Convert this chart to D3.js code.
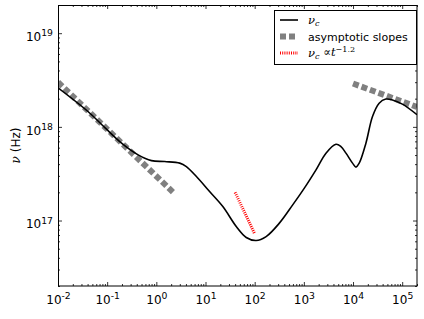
<!DOCTYPE html>
<html>
<head>
<meta charset="utf-8">
<script src="https://cdn.jsdelivr.net/npm/d3@7/dist/d3.min.js"></script>
<style>
    body { margin: 0; background: #fff; }
    svg { display: block; font-family: "DejaVu Sans", sans-serif; }
</style>
</head>
<body>
<div id="graph"></div>
<script>
"use strict";
// nu_c curve (t, Hz)
const tCurve = [0.01, 0.0412, 0.0897, 0.196, 0.426, 0.796, 1.48, 2.99, 4.08, 6.53, 12.1, 22.5,
    42.2, 67.3, 107, 171, 318, 593, 1023, 1767, 2818, 4498, 5684, 7178, 9772, 11460, 13370,
    18280, 24890, 33980, 46450, 63240, 100900, 200000];
const nuCurve = [2.61e18, 1.45e18, 9.8e17, 6.7e17, 5.02e17, 4.36e17, 4.26e17, 4.10e17, 3.77e17,
    2.95e17, 2.04e17, 1.41e17, 8.63e16, 6.59e16, 6.12e16, 6.74e16, 9.38e16, 1.47e17, 2.22e17,
    3.48e17, 5.24e17, 6.53e17, 6.16e17, 5.24e17, 4.10e17, 3.72e17, 4.10e17, 6.70e17, 1.29e18,
    1.79e18, 1.98e18, 1.94e18, 1.75e18, 1.35e18];

// asymptotic slopes
const slopeLeftT = [0.01, 2.2];
const slopeLeftNu = [3.0e18, 2.0e17];
const slopeRightT = [1e4, 2e5];
const slopeRightNu = [2.9e18, 1.63e18];

// nu_c ~ t^-1.2 guide
const guideT = [40, 100];
const guideNu = [2.0e17, 7.2e16];

const xExp = [-2, -1, 0, 1, 2, 3, 4, 5];
const yExp = [17, 18, 19];
const legendLabels = ["nu", "asymptotic slopes", "guide"];

const W = 424, H = 319;
const margin = {top: 5, right: 7, bottom: 33, left: 58};
const width = W - margin.left - margin.right;
const height = H - margin.top - margin.bottom;

const xScale = d3.scaleLog().domain([1e-2, 2e5]).range([0, width]);
const yScale = d3.scaleLog().domain([2e16, 2e19]).range([height, 0]);

const svg = d3.select("#graph").append("svg")
    .attr("width", W).attr("height", H);
const g = svg.append("g")
    .attr("transform", "translate(" + margin.left + "," + margin.top + ")");

g.append("clipPath").attr("id", "clip")
    .append("rect").attr("width", width).attr("height", height);

function minorTicks(scale) {
    let d = scale.domain();
    let out = [];
    for (let e = Math.floor(Math.log10(d[0])); e <= Math.ceil(Math.log10(d[1])); e++) {
        for (let m = 2; m <= 9; m++) {
            let v = m * Math.pow(10, e);
            if (v >= d[0] && v <= d[1]) out.push(v);
        }
    }
    return out;
}

function powLabel(sel) {
    sel.selectAll(".tick text").each(function(d) {
        let e = Math.round(Math.log10(d));
        let t = d3.select(this).text("10");
        t.append("tspan").attr("dy", "-0.5em").attr("font-size", "0.77em")
            .text(e < 0 ? "-" + (-e) : e);
    });
}

const xMajor = xExp.map((e) => Math.pow(10, e));
const yMajor = yExp.map((e) => Math.pow(10, e));

// bottom
g.append("g").attr("transform", "translate(0," + height + ")")
    .call(d3.axisBottom(xScale).tickValues(xMajor).tickSize(-4).tickPadding(9).tickFormat(() => ""))
    .call(powLabel)
    .call((s) => s.selectAll("text").attr("font-size", 12).attr("fill", "#000").attr("font-family", "DejaVu Sans"));
g.append("g").attr("transform", "translate(0," + height + ")")
    .call(d3.axisBottom(xScale).tickValues(minorTicks(xScale)).tickSize(-2).tickFormat(""));
// top
g.append("g").call(d3.axisTop(xScale).tickValues(xMajor).tickSize(-4).tickFormat(""));
g.append("g").call(d3.axisTop(xScale).tickValues(minorTicks(xScale)).tickSize(-2).tickFormat(""));
// left
g.append("g")
    .call(d3.axisLeft(yScale).tickValues(yMajor).tickSize(-4).tickPadding(5).tickFormat(() => ""))
    .call(powLabel)
    .call((s) => s.selectAll(".tick > text").attr("dy", "0.6em"))
    .call((s) => s.selectAll("text").attr("font-size", 12).attr("fill", "#000").attr("font-family", "DejaVu Sans"));
g.append("g").call(d3.axisLeft(yScale).tickValues(minorTicks(yScale)).tickSize(-2).tickFormat(""));
// right
g.append("g").attr("transform", "translate(" + width + ",0)")
    .call(d3.axisRight(yScale).tickValues(yMajor).tickSize(-4).tickFormat(""));
g.append("g").attr("transform", "translate(" + width + ",0)")
    .call(d3.axisRight(yScale).tickValues(minorTicks(yScale)).tickSize(-2).tickFormat(""));

g.selectAll(".domain").remove();
g.selectAll(".tick line").attr("stroke", "#000").attr("stroke-width", 0.8);

const plot = g.append("g").attr("clip-path", "url(#clip)");

const line = d3.line()
    .x((d) => xScale(d[0]))
    .y((d) => yScale(d[1]));

plot.append("path")
    .datum(d3.zip(slopeLeftT, slopeLeftNu))
    .attr("d", line)
    .attr("fill", "none").attr("stroke", "#808080")
    .attr("stroke-width", 6).attr("stroke-dasharray", "6,3");
plot.append("path")
    .datum(d3.zip(slopeRightT, slopeRightNu))
    .attr("d", line)
    .attr("fill", "none").attr("stroke", "#808080")
    .attr("stroke-width", 6).attr("stroke-dasharray", "6,3");

plot.append("path")
    .datum(d3.zip(tCurve, nuCurve))
    .attr("d", line.curve(d3.curveCatmullRom.alpha(0.5)))
    .attr("fill", "none").attr("stroke", "#000").attr("stroke-width", 1.6);
line.curve(d3.curveLinear);

plot.append("path")
    .datum(d3.zip(guideT, guideNu))
    .attr("d", line)
    .attr("fill", "none").attr("stroke", "#ff0000")
    .attr("stroke-width", 3).attr("stroke-dasharray", "1,1.2");

// frame
g.append("rect")
    .attr("x", 0.5).attr("y", 0.5)
    .attr("width", width - 0.5).attr("height", height - 0.5)
    .attr("fill", "none").attr("stroke", "#000").attr("stroke-width", 1);

// y label
svg.append("text")
    .attr("transform", "translate(19.5," + (margin.top + height / 2) + ") rotate(-90)")
    .attr("text-anchor", "middle")
    .attr("font-size", 12)
    .call((t) => {
        t.append("tspan").attr("font-family", "DejaVu Serif").attr("font-style", "italic").text("ν");
        t.append("tspan").text(" (Hz)");
    });

// legend
const leg = svg.append("g").attr("transform", "translate(274,10)");
leg.append("rect").attr("x", 0.5).attr("y", 0.5).attr("width", 142).attr("height", 54)
    .attr("fill", "#fff").attr("stroke", "#000").attr("stroke-width", 1);

const rows = leg.selectAll("g.row").data(legendLabels).enter().append("g")
    .attr("transform", (d, i) => "translate(0," + (10 + i * 16.5) + ")");

rows.append("line")
    .attr("x1", 6).attr("x2", 24).attr("y1", 0).attr("y2", 0)
    .attr("stroke", (d, i) => ["#000", "#808080", "#ff0000"][i])
    .attr("stroke-width", (d, i) => [1.6, 6, 3][i])
    .attr("stroke-dasharray", (d, i) => [null, "6,3", "1,1.2"][i]);

rows.each(function(d, i) {
    let t = d3.select(this).append("text").attr("x", 34).attr("y", 4).attr("font-size", 11.5);
    if (d === "asymptotic slopes") {
        t.attr("font-size", 11).text(d);
        return;
    }
    t.append("tspan").attr("font-family", "DejaVu Serif").attr("font-style", "italic").text("ν");
    t.append("tspan").attr("font-family", "DejaVu Serif").attr("font-style", "italic")
        .attr("font-size", "0.7em").attr("dy", "0.3em").text("c");
    if (d === "guide") {
        t.append("tspan").attr("font-family", "DejaVu Serif").attr("dy", "-0.3em").text(" ∝");
        t.append("tspan").attr("font-family", "DejaVu Serif").attr("font-style", "italic").text("t");
        t.append("tspan").attr("font-family", "DejaVu Serif").attr("font-size", "0.7em")
            .attr("dy", "-0.5em").text("−1.2");
    }
});
</script>
</body>
</html>
